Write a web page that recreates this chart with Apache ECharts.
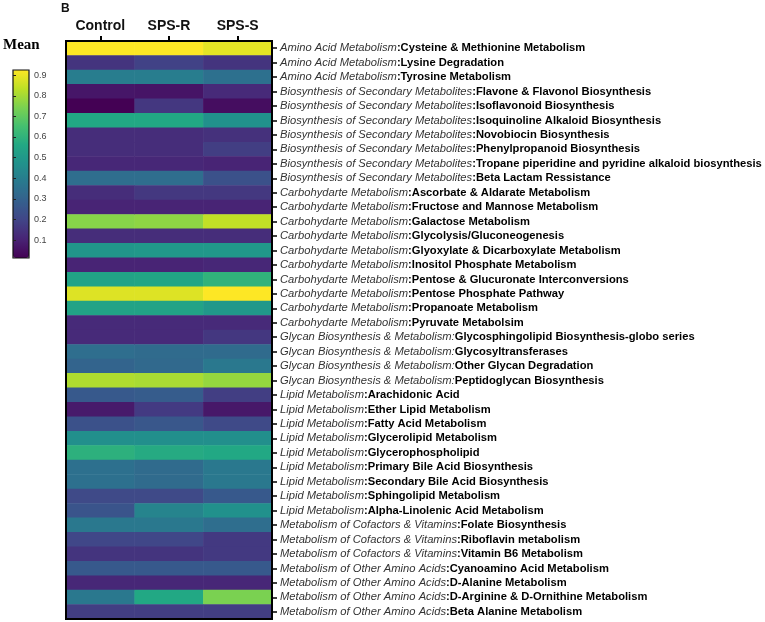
<!DOCTYPE html>
<html>
<head>
<meta charset="utf-8">
<script src="https://cdn.jsdelivr.net/npm/echarts@6/dist/echarts.min.js"></script>
<style>
html,body{margin:0;padding:0;background:#fff;}
#chart{width:765px;height:622px;}
</style>
</head>
<body>
<div id="chart"></div>
<script>
const categories = ['Control', 'SPS-R', 'SPS-S'];

const rowGroups = [
  'Amino Acid Metabolism', 'Amino Acid Metabolism', 'Amino Acid Metabolism',
  'Biosynthesis of Secondary Metabolites', 'Biosynthesis of Secondary Metabolites',
  'Biosynthesis of Secondary Metabolites', 'Biosynthesis of Secondary Metabolites',
  'Biosynthesis of Secondary Metabolites', 'Biosynthesis of Secondary Metabolites',
  'Biosynthesis of Secondary Metabolites',
  'Carbohydarte Metabolism', 'Carbohydarte Metabolism', 'Carbohydarte Metabolism',
  'Carbohydarte Metabolism', 'Carbohydarte Metabolism', 'Carbohydarte Metabolism',
  'Carbohydarte Metabolism', 'Carbohydarte Metabolism', 'Carbohydarte Metabolism',
  'Carbohydarte Metabolism',
  'Glycan Biosynthesis & Metabolism:', 'Glycan Biosynthesis & Metabolism:',
  'Glycan Biosynthesis & Metabolism:', 'Glycan Biosynthesis & Metabolism:',
  'Lipid Metabolism', 'Lipid Metabolism', 'Lipid Metabolism', 'Lipid Metabolism',
  'Lipid Metabolism', 'Lipid Metabolism', 'Lipid Metabolism', 'Lipid Metabolism',
  'Lipid Metabolism',
  'Metabolism of Cofactors & Vitamins', 'Metabolism of Cofactors & Vitamins',
  'Metabolism of Cofactors & Vitamins',
  'Metabolism of Other Amino Acids', 'Metabolism of Other Amino Acids',
  'Metabolism of Other Amino Acids', 'Metabolism of Other Amino Acids'
];

const rowNames = [
  ':Cysteine & Methionine Metabolism', ':Lysine Degradation', ':Tyrosine Metabolism',
  ':Flavone & Flavonol Biosynthesis', ':Isoflavonoid Biosynthesis',
  ':Isoquinoline Alkaloid Biosynthesis', ':Novobiocin Biosynthesis',
  ':Phenylpropanoid Biosynthesis', ':Tropane piperidine and pyridine alkaloid biosynthesis',
  ':Beta Lactam Ressistance',
  ':Ascorbate & Aldarate Metabolism', ':Fructose and Mannose Metabolism',
  ':Galactose Metabolism', ':Glycolysis/Gluconeogenesis',
  ':Glyoxylate & Dicarboxylate Metabolism', ':Inositol Phosphate Metabolism',
  ':Pentose & Glucuronate Interconversions', ':Pentose Phosphate Pathway',
  ':Propanoate Metabolism', ':Pyruvate Metabolsim',
  'Glycosphingolipid Biosynthesis-globo series', 'Glycosyltransferases',
  'Other Glycan Degradation', 'Peptidoglycan Biosynthesis',
  ':Arachidonic Acid', ':Ether Lipid Metabolism', ':Fatty Acid Metabolism',
  ':Glycerolipid Metabolism', ':Glycerophospholipid', ':Primary Bile Acid Biosynthesis',
  ':Secondary Bile Acid Biosynthesis', ':Sphingolipid Metabolism',
  ':Alpha-Linolenic Acid Metabolism',
  ':Folate Biosynthesis', ':Riboflavin metabolism', ':Vitamin B6 Metabolism',
  ':Cyanoamino Acid Metabolism', ':D-Alanine Metabolism',
  ':D-Arginine & D-Ornithine Metabolism', ':Beta Alanine Metabolism'
];

const controlValues = [
  0.925, 0.150, 0.396, 0.068, 0.013, 0.560, 0.130, 0.130, 0.113, 0.340,
  0.130, 0.104, 0.760, 0.130, 0.487, 0.104, 0.540, 0.880, 0.540, 0.122,
  0.122, 0.340, 0.305, 0.815,
  0.268, 0.077, 0.240, 0.460, 0.590, 0.350, 0.350, 0.214, 0.250,
  0.378, 0.205, 0.150,
  0.268, 0.113, 0.378, 0.177
];
const spsRValues = [
  0.925, 0.190, 0.396, 0.063, 0.159, 0.560, 0.130, 0.130, 0.113, 0.340,
  0.160, 0.104, 0.770, 0.130, 0.496, 0.104, 0.550, 0.880, 0.540, 0.122,
  0.122, 0.330, 0.323, 0.806,
  0.277, 0.168, 0.259, 0.460, 0.570, 0.330, 0.330, 0.214, 0.420,
  0.378, 0.205, 0.150,
  0.268, 0.113, 0.560, 0.177
];
const spsSValues = [
  0.889, 0.150, 0.350, 0.122, 0.045, 0.470, 0.140, 0.177, 0.104, 0.240,
  0.160, 0.104, 0.840, 0.130, 0.496, 0.113, 0.600, 0.925, 0.496, 0.122,
  0.159, 0.330, 0.378, 0.780,
  0.177, 0.072, 0.214, 0.460, 0.560, 0.378, 0.378, 0.268, 0.470,
  0.340, 0.163, 0.163,
  0.268, 0.113, 0.743, 0.177
];

const colorbarTicks = [0.1, 0.2, 0.3, 0.4, 0.5, 0.6, 0.7, 0.8, 0.9];
const valueMin = 0.013;
const valueMax = 0.925;

const viridis = ['#440154', '#482475', '#414487', '#355f8d', '#2a788e', '#21918c',
  '#22a884', '#44bf70', '#7ad151', '#bddf26', '#fde725'];

const seriesValues = [controlValues, spsRValues, spsSValues];
const heatData = [];
seriesValues.forEach((arr, xi) => {
  arr.forEach((v, yi) => heatData.push([xi, yi, v]));
});
const rowCats = rowGroups.map((g, i) => g + rowNames[i]);

const chart = echarts.init(document.getElementById('chart'), null, {renderer: 'canvas'});
chart.setOption({
  backgroundColor: '#fff',
  animation: false,
  title: [
    {text: 'B', left: 61, top: 3, padding: 0,
     textStyle: {fontFamily: 'Liberation Sans, Arial', fontWeight: 'bold', fontSize: 12, color: '#111'}},
    {text: 'Mean', left: 3, top: 38, padding: 0,
     textStyle: {fontFamily: 'Liberation Serif, Times New Roman', fontWeight: 'bold', fontSize: 15, color: '#000'}}
  ],
  grid: [
    {left: 66, top: 41, width: 206, height: 578, show: true, borderColor: '#000', borderWidth: 2,
     backgroundColor: 'transparent', z: 10},
    {left: 13, top: 70, width: 16, height: 188, show: true, borderColor: '#111', borderWidth: 1.2,
     backgroundColor: 'transparent', z: 10}
  ],
  xAxis: [
    {type: 'category', gridIndex: 0, data: categories, position: 'top',
     axisLine: {show: true, lineStyle: {color: '#000', width: 2}},
     axisTick: {show: true, alignWithLabel: true, length: 5, lineStyle: {color: '#000', width: 2}},
     axisLabel: {fontFamily: 'Liberation Sans, Arial', fontWeight: 'bold', fontSize: 14, color: '#111', margin: 8},
     splitLine: {show: false}, z: 11},
    {type: 'value', gridIndex: 1, show: false}
  ],
  yAxis: [
    {type: 'category', gridIndex: 0, data: rowCats, inverse: true, position: 'right',
     axisLine: {show: true, lineStyle: {color: '#000', width: 2}},
     axisTick: {show: true, interval: 0, alignWithLabel: true, length: 5, lineStyle: {color: '#000', width: 1.5}},
     axisLabel: {
       interval: 0,
       margin: 8,
       formatter: (val, idx) => '{i|' + rowGroups[idx] + '}{b|' + rowNames[idx] + '}',
       rich: {
         i: {fontFamily: 'Liberation Sans, Arial', fontStyle: 'italic', fontSize: 11.2, color: '#333'},
         b: {fontFamily: 'Liberation Sans, Arial', fontWeight: 'bold', fontSize: 11.2, color: '#000'}
       }
     },
     splitLine: {show: false}, z: 11},
    {type: 'value', gridIndex: 1, min: valueMin, max: valueMax, position: 'right',
     axisLine: {show: false},
     axisTick: {show: true, length: 3, customValues: colorbarTicks, lineStyle: {color: '#222', width: 1}},
     axisLabel: {show: true, customValues: colorbarTicks, fontSize: 9, color: '#444',
       fontFamily: 'Liberation Sans, Arial', margin: 5,
       formatter: v => v.toFixed(1)},
     splitLine: {show: false}, z: 11},
    {type: 'value', gridIndex: 1, min: valueMin, max: valueMax, position: 'left',
     axisLine: {show: false},
     axisTick: {show: true, inside: true, length: 3, customValues: colorbarTicks, lineStyle: {color: '#222', width: 1}},
     axisLabel: {show: false},
     splitLine: {show: false}, z: 11}
  ],
  visualMap: {
    type: 'continuous', min: valueMin, max: valueMax, dimension: 2, seriesIndex: 0,
    calculable: false, show: true, left: 13, top: 70, padding: 0,
    itemWidth: 16, itemHeight: 188, text: ['', ''], showLabel: false,
    inRange: {color: viridis}
  },
  series: [{
    type: 'heatmap', xAxisIndex: 0, yAxisIndex: 0, data: heatData,
    itemStyle: {borderWidth: 0},
    emphasis: {disabled: true},
    progressive: 0
  }]
});
</script>
</body>
</html>
